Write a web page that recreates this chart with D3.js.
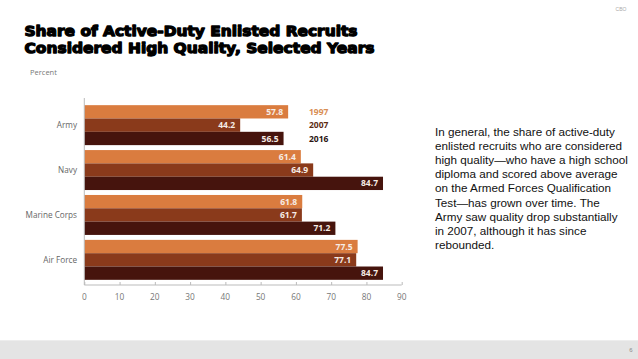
<!DOCTYPE html>
<html>
<head>
<meta charset="utf-8">
<script src="https://cdnjs.cloudflare.com/ajax/libs/d3/7.8.5/d3.min.js"></script>
<style>
  body { margin: 0; background: #fff; }
  svg { display: block; }
</style>
</head>
<body>
<div id="chart"></div>
<script>
// data
const branches = ["Army", "Navy", "Marine Corps", "Air Force"];
const years = ["1997", "2007", "2016"];
const v1997 = [57.8, 61.4, 61.8, 77.5];
const v2007 = [44.2, 64.9, 61.7, 77.1];
const v2016 = [56.5, 84.7, 71.2, 84.7];
const xTicks = [0, 10, 20, 30, 40, 50, 60, 70, 80, 90];
const note = [
  "In general, the share of active-duty",
  "enlisted recruits who are considered",
  "high quality\u2014who have a high school",
  "diploma and scored above average",
  "on the Armed Forces Qualification",
  "Test\u2014has grown over time. The",
  "Army saw quality drop substantially",
  "in 2007, although it has since",
  "rebounded."
];

const series = [v1997, v2007, v2016];
const barColor = ["#da7c3f", "#8a3a1b", "#46140d"];
const legendColor = ["#d98e55", "#5c2b12", "#2b1410"];

const W = 638, H = 359;
const svg = d3.select("#chart").append("svg")
    .attr("width", W).attr("height", H);

// footer band
svg.append("rect").attr("x", 0).attr("y", 340).attr("width", W).attr("height", 19).attr("fill", "#e4e4e4");
svg.append("line").attr("x1", 0).attr("x2", W).attr("y1", 340.5).attr("y2", 340.5).attr("stroke", "#ededed");
svg.append("text").attr("x", 631).attr("y", 352).attr("font-size", 6).attr("fill", "#888")
    .attr("font-family", "Liberation Sans, Arial").attr("text-anchor", "middle").text("6");
svg.append("text").attr("x", 621).attr("y", 11).attr("font-size", 5).attr("fill", "#aaa")
    .attr("font-family", "Liberation Sans, Arial").attr("text-anchor", "middle").text("CBO");

// title (heavy, Arial Black look)
const titleLines = ["Share of Active-Duty Enlisted Recruits", "Considered High Quality, Selected Years"];
const titleLen = [334, 351];
svg.selectAll("text.title").data(titleLines).join("text")
    .attr("class", "title")
    .attr("x", 24.5)
    .attr("y", (d, i) => 36 + i * 17)
    .attr("font-family", "DejaVu Sans, sans-serif")
    .attr("font-weight", "bold")
    .attr("font-size", 14.5)
    .attr("stroke", "#000").attr("stroke-width", 1.3)
    .attr("stroke-linejoin", "round")
    .attr("textLength", (d, i) => titleLen[i] - 1)
    .attr("lengthAdjust", "spacingAndGlyphs")
    .text(d => d);

svg.append("text").attr("x", 30).attr("y", 75)
    .attr("font-family", "Open Sans, Liberation Sans, sans-serif")
    .attr("font-size", 7.5).attr("fill", "#777").text("Percent");

// scales
const x = d3.scaleLinear().domain([0, 90]).range([84.3, 401.7]);
const y = d3.scaleBand().domain(branches).range([102.7, 282.3])
    .paddingInner(0.11).paddingOuter(0.055);
const ySub = d3.scaleBand().domain(years).range([0, y.bandwidth()]);

const rows = [];
branches.forEach((b, i) => years.forEach((yr, j) => rows.push({branch: b, year: yr, j: j, value: series[j][i]})));

const g = svg.append("g");
g.selectAll("rect.bar").data(rows).join("rect")
    .attr("class", "bar")
    .attr("x", x(0))
    .attr("y", d => y(d.branch) + ySub(d.year))
    .attr("width", d => x(d.value) - x(0))
    .attr("height", ySub.bandwidth())
    .attr("fill", d => barColor[d.j]);

g.selectAll("text.val").data(rows).join("text")
    .attr("class", "val")
    .attr("x", d => x(d.value) - 5)
    .attr("y", d => y(d.branch) + ySub(d.year) + ySub.bandwidth() / 2)
    .attr("dy", "0.36em")
    .attr("text-anchor", "end")
    .attr("font-family", "Open Sans, Liberation Sans, sans-serif")
    .attr("font-weight", "bold")
    .attr("font-size", 8.5)
    .attr("fill", "#f6ece6")
    .text(d => d.value.toFixed(1));

// category labels
g.selectAll("text.cat").data(branches).join("text")
    .attr("class", "cat")
    .attr("x", 77)
    .attr("y", d => y(d) + y.bandwidth() / 2)
    .attr("dy", "0.35em")
    .attr("text-anchor", "end")
    .attr("font-family", "Open Sans, Liberation Sans, sans-serif")
    .attr("font-size", 8.2)
    .attr("fill", "#666")
    .text(d => d);

// legend
g.selectAll("text.leg").data(years).join("text")
    .attr("class", "leg")
    .attr("x", 309)
    .attr("y", (d, i) => y("Army") + ySub(d) + ySub.bandwidth() / 2)
    .attr("dy", "0.36em")
    .attr("font-family", "Open Sans, Liberation Sans, sans-serif")
    .attr("font-weight", "bold")
    .attr("font-size", 8.5)
    .attr("fill", (d, i) => legendColor[i])
    .text(d => d);

// axes
svg.append("line").attr("x1", 84.3).attr("x2", 84.3).attr("y1", 98).attr("y2", 285)
    .attr("stroke", "#bbb").attr("stroke-width", 1);
const xAxis = svg.append("g")
    .attr("transform", "translate(0,285)")
    .call(d3.axisTop(x).tickValues(xTicks).tickSize(3).tickFormat(""));
xAxis.select(".domain").attr("stroke", "#bbb").attr("d", `M${x(0)},0H${x(90)}`);
xAxis.selectAll(".tick line").attr("stroke", "#bbb");
svg.append("g").selectAll("text").data(xTicks).join("text")
    .attr("x", d => x(d))
    .attr("y", 297)
    .attr("dy", "0.35em")
    .attr("text-anchor", "middle")
    .attr("font-family", "Open Sans, Liberation Sans, sans-serif")
    .attr("font-size", 8.3)
    .attr("fill", "#777")
    .text(d => d);

// side note
svg.append("g").selectAll("text").data(note).join("text")
    .attr("x", 435)
    .attr("y", (d, i) => 131.7 + i * 14.15)
    .attr("dy", "0.35em")
    .attr("font-family", "Liberation Sans, Arial, sans-serif")
    .attr("font-size", 11.7)
    .attr("fill", "#111")
    .text(d => d);
</script>
</body>
</html>
